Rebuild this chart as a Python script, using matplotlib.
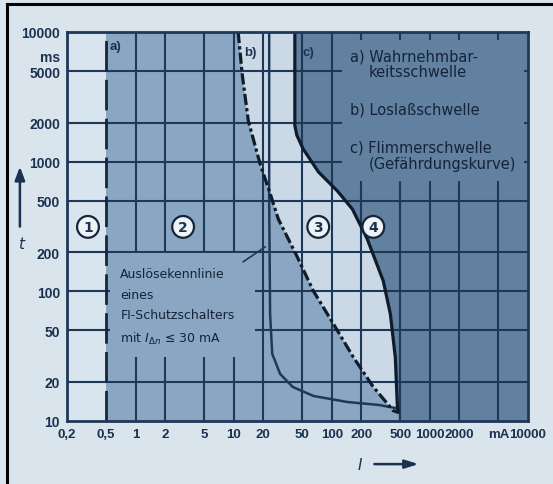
import matplotlib
matplotlib.use('Agg')
import matplotlib.pyplot as plt
from matplotlib.patches import Rectangle
from matplotlib.lines import Line2D

# ---------------- data (current in mA, time in ms) ----------------
x_ticks = [0.2, 0.5, 1, 2, 5, 10, 20, 50, 100, 200, 500, 1000, 2000, 5000, 10000]
x_labels = ['0,2', '0,5', '1', '2', '5', '10', '20', '50', '100', '200', '500',
            '1000', '2000', 'mA', '10000']
y_ticks = [10, 20, 50, 100, 200, 500, 1000, 2000, 5000, 10000]
y_labels = ['10', '20', '50', '100', '200', '500', '1000', '2000', '5000', '10000']
grid_x = [1, 2, 5, 10, 20, 50, 100, 200, 500, 1000, 2000, 5000]
grid_y = [20, 50, 100, 200, 500, 1000, 2000, 5000]

# a) perception threshold
current_a = 0.5
# b) let-go threshold
current_b = [23, 23, 23.5, 24.7, 29.8, 40, 65, 145, 300, 470]
time_b = [10000, 500, 67, 33, 23, 18.3, 15.6, 14, 13.3, 12.5]
# c) fibrillation threshold
current_c = [42, 42, 44, 51, 73, 114, 162, 230, 335, 395, 444, 466, 475]
time_c = [10000, 1900, 1600, 1254, 834, 594, 431, 253, 120, 67, 31, 13, 11.7]
# trip curve of RCD 30 mA
current_rcd = [11.1, 12.2, 14.1, 18.6, 23.6, 28.5, 44.5, 64.7, 104, 166, 265, 424, 475]
time_rcd = [10000, 4740, 2060, 960, 564, 361, 184, 101, 56, 31, 18.3, 12, 11.7]

# ---------------- style ----------------
TICKFONT = 'Liberation Sans'
TEXT = 'DejaVu Sans'

bg = '#dae4ec'
zone1 = '#d8e4ee'
zone2 = '#8aa6c2'
zone3 = '#cbd9e6'
zone4 = '#62809f'
grid_col = '#1e3857'
txt_col = '#1a3250'

fig = plt.figure(figsize=(5.53, 4.85), dpi=100, facecolor=bg)
ax = fig.add_axes([0.1212, 0.1299, 0.8336, 0.8021])
ax.set_xscale('log')
ax.set_yscale('log')
ax.set_xlim(0.2, 10000)
ax.set_ylim(10, 10000)
ax.set_facecolor(zone2)

# zones
ax.axvspan(0.2, current_a, color=zone1, zorder=0, lw=0)
ax.fill(current_rcd + current_c[::-1], time_rcd + time_c[::-1], color=zone3, zorder=0.5, lw=0)
ax.fill_betweenx(time_c + [10], current_c + [current_c[-1]], 10000, color=zone4, zorder=0.6, lw=0)

# grid
for gx in grid_x:
    ax.axvline(gx, color=grid_col, lw=1.5, zorder=2)
for gy in grid_y:
    ax.axhline(gy, color=grid_col, lw=1.5, zorder=2)

# blank boxes for the texts
ax.add_patch(Rectangle((128, 710), 9000 - 128, 8670 - 710, color=zone4, lw=0, zorder=3))
ax.add_patch(Rectangle((0.55, 31), 16.6 - 0.55, 198 - 31, color=zone2, lw=0, zorder=3))

# curves
ax.axvline(current_a, color='#15263a', lw=2.0, dashes=(11, 3), zorder=4)
ax.plot(current_b, time_b, color='#1f3858', lw=1.8, zorder=4)
ax.plot(current_c, time_c, color='#0f1c2c', lw=2.3, zorder=4)
ax.plot(current_rcd, time_rcd, color='#0f1c2c', lw=2.3, dashes=(3.5, 1, 1, 1), zorder=4)
ax.plot([12.5, 20.9], [169, 220], color=grid_col, lw=1.2, zorder=4)

for s in ax.spines.values():
    s.set_color(grid_col)
    s.set_linewidth(2)
    s.set_zorder(5)

ax.set_xticks(x_ticks)
ax.set_xticklabels(x_labels)
ax.set_yticks(y_ticks)
ax.set_yticklabels(y_labels)
ax.minorticks_off()
ax.tick_params(length=0, pad=5, labelcolor=txt_col)
for lab in ax.get_xticklabels():
    lab.set_family(TICKFONT)
    lab.set_fontsize(9.5)
    lab.set_fontweight('bold')
for lab in ax.get_yticklabels():
    lab.set_family(TICKFONT)
    lab.set_fontsize(10)
    lab.set_fontweight('bold')

fig.text(0.1085, 0.880, 'ms', ha='right', va='center', fontsize=10, family=TICKFONT,
         fontweight='bold', color=txt_col)

# labels in the plot
for lx, ly, s in [(0.62, 7800, 'a)'), (14.7, 7000, 'b)'), (57.5, 7000, 'c)')]:
    ax.text(lx, ly, s, fontsize=9.5, family=TICKFONT, fontweight='bold', color=txt_col,
            va='center', ha='center', zorder=6)

for lx, s in [(0.327, '1'), (3.05, '2'), (72.8, '3'), (265, '4')]:
    ax.text(lx, 314, s, fontsize=10, family=TEXT, fontweight='bold', color=txt_col,
            ha='center', va='center', zorder=6,
            bbox=dict(boxstyle='circle,pad=0.28', fc='#eef3f7', ec='#15263a', lw=1.6))

legend_lines = [(154, 6530, 'a) Wahrnehmbar-'), (236, 4920, 'keitsschwelle'),
                (154, 2550, 'b) Loslaßschwelle'), (154, 1297, 'c) Flimmerschwelle'),
                (236, 960, '(Gefährdungskurve)')]
for lx, ly, s in legend_lines:
    ax.text(lx, ly, s, fontsize=10.5, family=TEXT, color='#13243a', va='center', ha='left', zorder=6)

ax.text(0.7, 76, 'Auslösekennlinie\neines\nFI-Schutzschalters\nmit $I_{\\Delta n}$ ≤ 30 mA',
        fontsize=9, family=TEXT, color='#13243a', va='center', ha='left', linespacing=1.75, zorder=6)

# axis names with arrows
fig.text(0.040, 0.497, '$t$', fontsize=11, color=txt_col, ha='center', va='center')
ax.annotate('', xy=(0.036, 0.660), xytext=(0.036, 0.525), xycoords='figure fraction',
            arrowprops=dict(arrowstyle='-|>,head_length=0.8,head_width=0.3', color=txt_col, lw=1.8))
fig.text(0.651, 0.041, '$I$', fontsize=11, color=txt_col, ha='center', va='center')
ax.annotate('', xy=(0.762, 0.041), xytext=(0.672, 0.041), xycoords='figure fraction',
            arrowprops=dict(arrowstyle='-|>,head_length=0.8,head_width=0.25', color=txt_col, lw=1.8))

# scan frame (top and left)
fig.add_artist(Line2D([0.0127, 1.0], [0.990, 0.990], transform=fig.transFigure, color='black', lw=2.2))
fig.add_artist(Line2D([0.0127, 0.0127], [0.0, 0.990], transform=fig.transFigure, color='black', lw=2.2))

plt.savefig('out.png', dpi=100, facecolor=bg)
plt.close()
